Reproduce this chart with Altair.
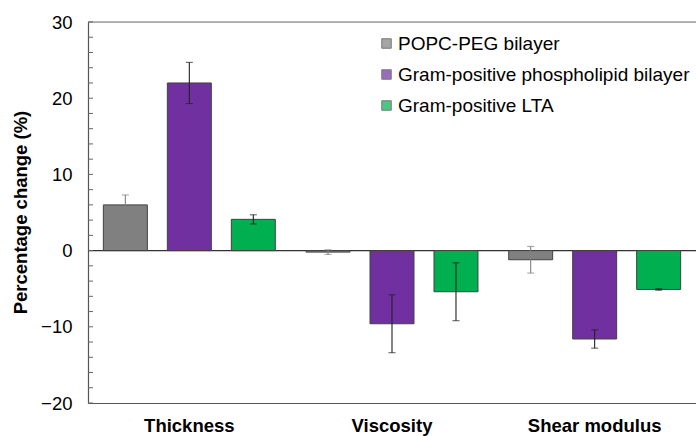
import altair as alt
import pandas as pd

categories = ["Thickness", "Viscosity", "Shear modulus"]
series = ["POPC-PEG bilayer", "Gram-positive phospholipid bilayer", "Gram-positive LTA"]
colors = ["#808080", "#7030A0", "#00B050"]
err_colors = ["#808080", "#222222", "#222222"]

popc_values = [6.0, -0.2, -1.2]
popc_errors = [1.3, 0.3, 1.75]
phospho_values = [22.0, -9.6, -11.6]
phospho_errors = [2.7, 3.8, 1.2]
lta_values = [4.1, -5.4, -5.1]
lta_errors = [0.6, 3.8, 0.1]

y_ticks_major = [-20, -10, 0, 10, 20, 30]
y_ticks_minor = list(range(-20, 31, 2))

rows = []
for s, vals, errs, ec in zip(series, [popc_values, phospho_values, lta_values],
                             [popc_errors, phospho_errors, lta_errors], err_colors):
    for c, v, e in zip(categories, vals, errs):
        rows.append({"cat": c, "series": s, "value": v, "lo": v - e, "hi": v + e, "ec": ec})
df = pd.DataFrame(rows)

FONT = "Liberation Sans"
FS = 18.5

x_enc = alt.X("cat:N", sort=categories, title=None,
              scale=alt.Scale(paddingInner=0, paddingOuter=0),
              axis=alt.Axis(labelFont=FONT, labelFontSize=FS, labelFontWeight="bold",
                            labelColor="black", labelAngle=0, ticks=False,
                            labelPadding=13, domainColor="#555555", domainWidth=1.2))
xoff = alt.XOffset("series:N", sort=series,
                   scale=alt.Scale(paddingInner=0.3125, paddingOuter=0.24))
y_scale = alt.Scale(domain=[-20, 30], nice=False)

bars = alt.Chart(df).mark_bar(stroke="#404040", strokeWidth=1).encode(
    x=x_enc,
    xOffset=xoff,
    y=alt.Y("value:Q", scale=y_scale, title="Percentage change (%)",
            axis=alt.Axis(values=y_ticks_major, ticks=False, grid=False,
                          labelFont=FONT, labelFontSize=FS, labelColor="black",
                          labelPadding=16, domainColor="#555555", domainWidth=1.2,
                          titleFont=FONT, titleFontSize=FS, titleFontWeight="bold",
                          titleColor="black", titleX=-58, titleY=190)),
    y2=alt.Y2(datum=0),
    color=alt.Color("series:N", sort=series,
                    scale=alt.Scale(domain=series, range=colors),
                    legend=alt.Legend(title=None, orient="none", legendX=289, legendY=12,
                                      symbolType="square", symbolSize=90,
                                      symbolStrokeColor="#404040", symbolStrokeWidth=1,
                                      labelFont=FONT, labelFontSize=19, labelColor="black",
                                      labelLimit=500,
                                      rowPadding=11, symbolOffset=0, labelOffset=2,
                                      padding=0)),
)

err = alt.Chart(df).mark_rule(strokeWidth=1.1).encode(
    x=alt.X("cat:N", sort=categories),
    xOffset=xoff,
    y=alt.Y("lo:Q", scale=y_scale),
    y2="hi:Q",
    color=alt.Color("ec:N", scale=None),
)
cap_lo = alt.Chart(df).mark_tick(size=7, thickness=1.1).encode(
    x=alt.X("cat:N", sort=categories),
    xOffset=xoff,
    y=alt.Y("lo:Q", scale=y_scale),
    color=alt.Color("ec:N", scale=None),
)
cap_hi = alt.Chart(df).mark_tick(size=7, thickness=1.1).encode(
    x=alt.X("cat:N", sort=categories),
    xOffset=xoff,
    y=alt.Y("hi:Q", scale=y_scale),
    color=alt.Color("ec:N", scale=None),
)

zero = alt.Chart(pd.DataFrame({"y": [0]})).mark_rule(color="#333333", strokeWidth=1.2).encode(
    y=alt.Y("y:Q", scale=y_scale))
top = alt.Chart(pd.DataFrame({"y": [30]})).mark_rule(color="#777777", strokeWidth=1.2).encode(
    y=alt.Y("y:Q", scale=y_scale))
ticks = alt.Chart(pd.DataFrame({"y": y_ticks_minor})).mark_rule(color="#666666", strokeWidth=1).encode(
    y=alt.Y("y:Q", scale=y_scale), x=alt.value(0), x2=alt.value(5))

chart = alt.layer(zero, top, ticks, bars, err, cap_lo, cap_hi).properties(
    width=608, height=381,
    autosize=alt.AutoSizeParams(type="none"),
    padding={"left": 88, "top": 22, "right": 0, "bottom": 33},
).configure_view(stroke=None).configure(background="white")

chart.save("out.html", embed_options={"renderer": "svg", "actions": False})
